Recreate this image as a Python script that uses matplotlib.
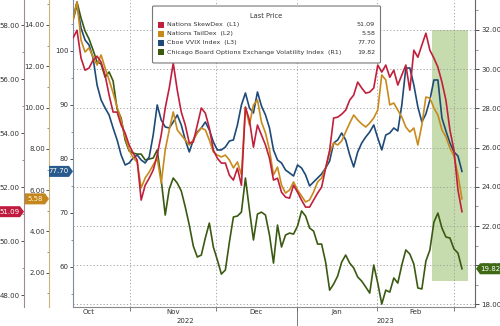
import numpy as np
import matplotlib
matplotlib.use("Agg")
import matplotlib.pyplot as plt
from matplotlib.patches import Polygon, Rectangle, FancyBboxPatch
from matplotlib.ticker import MultipleLocator, FormatStrFormatter

# daily closes, mid Oct 2022 -> early Mar 2023
vix = [32.61, 33.43, 32.61, 31.95, 31.54, 30.98, 30.37, 30.27, 29.60, 29.86,
       29.40, 27.97, 27.51, 26.39, 25.83, 25.72, 25.67, 25.67, 25.37, 25.42,
       25.47, 25.88, 24.35, 22.56, 23.89, 24.45, 24.19, 23.79, 22.97, 22.05,
       20.98, 20.42, 20.52, 21.39, 22.15, 20.93, 20.27, 19.55, 19.76, 21.18,
       22.46, 22.51, 22.71, 24.45, 22.82, 21.29, 22.61, 22.71, 22.56, 21.54,
       20.11, 22.05, 20.93, 21.54, 21.64, 21.59, 22.00, 22.77, 22.51, 21.90,
       21.74, 21.08, 21.08, 20.16, 18.73, 19.04, 19.45, 20.16, 20.52, 20.11,
       19.86, 19.40, 19.19, 18.89, 18.58, 20.01, 19.09, 18.02, 18.73, 18.63,
       19.35, 19.09, 20.01, 20.78, 20.57, 20.06, 18.84, 18.79, 20.21, 20.78,
       22.20, 22.66, 21.90, 21.44, 21.39, 20.83, 20.62, 19.82]

skewdex = [57.52, 57.81, 56.78, 56.33, 56.41, 56.70, 56.85, 56.63, 56.15, 55.41,
           54.78, 54.78, 54.30, 54.00, 53.56, 53.26, 53.00, 51.52, 52.07, 52.33,
           52.63, 53.19, 53.93, 54.93, 55.67, 56.59, 55.59, 54.78, 54.30, 53.63,
           53.67, 54.30, 54.93, 54.74, 54.19, 53.37, 53.07, 52.89, 52.89, 52.44,
           52.26, 52.70, 52.07, 54.96, 54.48, 53.48, 54.30, 53.93, 53.56, 53.07,
           52.26, 52.33, 51.81, 51.63, 51.59, 52.07, 51.81, 51.52, 51.26, 51.26,
           51.52, 51.78, 52.00, 52.70, 53.37, 54.56, 54.59, 54.70, 54.85, 55.22,
           55.41, 55.89, 55.67, 55.48, 55.52, 55.67, 56.52, 56.26, 56.52, 56.07,
           56.33, 55.78, 56.15, 56.52, 55.59, 57.07, 56.81, 57.26, 57.70, 57.07,
           56.78, 56.44, 55.89, 55.22, 54.11, 53.37, 51.89, 51.09]

taildex = [14.24, 15.11, 13.27, 12.69, 12.89, 12.45, 12.06, 12.55, 11.92, 11.34,
           10.71, 10.03, 9.40, 8.58, 7.95, 7.56, 7.37, 6.11, 6.59, 6.88,
           7.22, 7.56, 6.35, 7.95, 8.92, 9.79, 8.92, 8.67, 8.43, 8.19,
           8.43, 8.77, 9.01, 8.92, 8.43, 7.85, 7.70, 7.61, 7.70, 7.46,
           7.08, 7.37, 6.74, 10.03, 9.16, 10.13, 10.37, 9.30, 8.77, 7.95,
           6.74, 7.12, 6.25, 5.86, 6.01, 6.40, 6.01, 5.72, 5.43, 5.53,
           5.91, 6.40, 6.59, 7.08, 7.80, 8.29, 8.19, 8.38, 8.82, 9.25,
           9.64, 9.40, 9.21, 9.06, 9.25, 9.50, 9.88, 11.58, 11.34, 10.13,
           10.22, 9.88, 9.54, 9.06, 8.82, 9.01, 8.19, 9.16, 10.51, 10.46,
           9.98, 9.64, 8.92, 8.58, 8.04, 7.66, 6.74, 5.58]

vvix = [105.74, 108.52, 104.26, 102.04, 101.11, 98.70, 93.70, 90.93, 89.44, 88.15,
        85.74, 83.52, 80.74, 78.89, 79.26, 80.19, 80.74, 79.81, 79.26, 80.37,
        84.44, 90.00, 87.22, 85.93, 85.74, 86.85, 88.15, 86.30, 83.52, 81.30,
        83.52, 85.00, 85.74, 86.85, 85.37, 83.15, 81.67, 81.67, 82.22, 83.33,
        83.52, 86.30, 90.00, 92.22, 89.44, 88.52, 92.41, 89.81, 88.15, 85.74,
        81.67, 79.81, 79.26, 77.96, 77.41, 76.85, 78.89, 78.33, 77.04, 75.00,
        75.74, 76.48, 77.22, 78.33, 79.63, 82.96, 83.52, 84.81, 83.52, 80.74,
        78.52, 81.30, 82.96, 84.07, 85.00, 86.30, 83.89, 81.67, 84.44, 84.81,
        85.74, 85.19, 90.00, 96.85, 96.85, 93.70, 89.63, 86.85, 88.33, 90.93,
        94.63, 94.63, 87.59, 85.19, 82.96, 81.30, 80.56, 77.70]

months = ["Oct", "Nov", "Dec", "Jan", "Feb"]
month_pos = [4.0, 24.9, 45.6, 65.8, 85.5]          # label centres (trading-day index)
month_edges = [14.2, 35.7, 55.9, 75.8, 95.0]       # month boundaries
years = ["2022", "2023"]
year_pos = [27.9, 77.8]

names = ["Nations SkewDex  (L1)", "Nations TailDex  (L2)", "Cboe VVIX Index  (L3)",
         "Chicago Board Options Exchange Volatility Index  (R1)"]
last = ["51.09", "5.58", "77.70", "19.82"]

RED, ORANGE, BLUE, GREEN = "#c0203c", "#c98a1c", "#1f4a78", "#3a5a12"
TXT = "#333333"
FS = 5.0
LW = 1.2

W, H = 500, 326
fig = plt.figure(figsize=(W / 100, H / 100), dpi=100)
fig.patch.set_facecolor("white")


def P(x, y):
    # pixel (from top-left) -> figure fraction
    return x / W, 1 - y / H


x = np.arange(len(vix))

# base axes = VIX on the right, carries the grid
ax = fig.add_axes([73 / W, 1 - 307 / H, 402 / W, 307 / H])
axL3 = ax.twinx()
axL2 = ax.twinx()
axL1 = ax.twinx()

ax.set_xlim(0, 100.25)
ax.set_ylim(17.87, 33.53)
ax.add_patch(Rectangle((89.5, 19.2), 9.0, 12.8, facecolor="#c6dcae", lw=0, zorder=1))
ax.plot(x, vix, color=GREEN, lw=LW, zorder=3)
ax.yaxis.tick_right()
ax.yaxis.set_label_position("right")
ax.yaxis.set_major_locator(MultipleLocator(2))
ax.yaxis.set_minor_locator(MultipleLocator(1))
ax.yaxis.set_major_formatter(FormatStrFormatter("%.2f"))
ax.tick_params(axis="y", which="major", length=3, width=0.6, labelsize=FS, colors=TXT, pad=1.5)
ax.tick_params(axis="y", which="minor", length=2, width=0.5, colors="#666")
ax.spines["top"].set_visible(False)
ax.spines["left"].set_visible(False)
ax.spines["right"].set_color("#666")
ax.spines["bottom"].set_color("#888")
ax.set_xticks(month_edges)
ax.set_xticklabels([])
ax.set_xticks(month_pos, minor=True)
ax.set_xticklabels(months, minor=True)
ax.tick_params(axis="x", which="major", length=3, width=0.6, color="#666")
ax.tick_params(axis="x", which="minor", length=0, labelsize=FS, colors=TXT, pad=1.5)
ax.grid(axis="both", which="major", ls=(0, (1.5, 2.5)), color="#9a9a9a", lw=0.6)
ax.plot([month_edges[2]] * 2, [0, -0.062], color="#666", lw=0.6,
        transform=ax.get_xaxis_transform(), clip_on=False)
for yr, xp in zip(years, year_pos):
    ax.text(xp, -0.044, yr, transform=ax.get_xaxis_transform(), ha="center", va="center",
            fontsize=FS, color=TXT)

# three left-hand axes
specs = [
    (axL3, 0.0, (52.59, 109.44), 10, 5, "%d", "#7d8ca3", vvix, BLUE),
    (axL2, -24 / 402, (0.344, 15.21), 2, 1, "%.2f", "#c6b57c", taildex, ORANGE),
    (axL1, -49 / 402, (47.56, 58.93), 2, 1, "%.2f", "#9c8a94", skewdex, RED),
]
for a, pos, lim, maj, mnr, fmt, scol, data, lcol in specs:
    a.set_ylim(*lim)
    a.plot(x, data, color=lcol, lw=LW, zorder=3)
    a.yaxis.tick_left()
    a.yaxis.set_label_position("left")
    for s in ["top", "right", "bottom"]:
        a.spines[s].set_visible(False)
    a.spines["left"].set_visible(True)
    a.spines["left"].set_position(("axes", pos))
    a.spines["left"].set_color(scol)
    a.yaxis.set_major_locator(MultipleLocator(maj))
    a.yaxis.set_minor_locator(MultipleLocator(mnr))
    a.yaxis.set_major_formatter(FormatStrFormatter(fmt))
    a.tick_params(axis="y", which="major", length=2.2, width=0.6, labelsize=FS, colors=TXT, pad=0.8)
    a.tick_params(axis="y", which="minor", length=1.6, width=0.5, colors="#666")


def badge(axis, value, text, color, tip_px, width, side, tcolor="white"):
    yd = axis.transData.transform((0, value))[1]
    yp = H - yd
    h = 5.5
    if side == "right":      # pointing right, tip at tip_px
        x0 = tip_px - width
        pts = [(x0, yp - h), (tip_px - 4, yp - h), (tip_px, yp), (tip_px - 4, yp + h), (x0, yp + h)]
        xc = x0 + (width - 4) / 2
    else:                    # pointing left
        x1 = tip_px + width
        pts = [(x1, yp - h), (tip_px + 4, yp - h), (tip_px, yp), (tip_px + 4, yp + h), (x1, yp + h)]
        xc = tip_px + 4 + (width - 4) / 2
    fig.add_artist(Polygon([P(*p) for p in pts], closed=True, facecolor=color,
                           edgecolor="none", transform=fig.transFigure, zorder=5))
    fig.text(*P(xc, yp), text, ha="center", va="center", fontsize=FS, color=tcolor, zorder=6)


badge(axL1, 51.09, "51.09", "#c01a3e", 24, 24, "right")
badge(axL2, 5.58, "5.58", "#c4861e", 49, 24, "right", tcolor="#fff6c8")
badge(axL3, 77.70, "77.70", "#285a8c", 73, 24, "right")
badge(ax, 19.82, "19.82", "#3f6a14", 476, 24, "left")

# legend box
x0, y0 = P(154, 62)
x1, y1 = P(379, 7)
fig.add_artist(FancyBboxPatch((x0, y0), x1 - x0, y1 - y0, boxstyle="round,pad=0.003",
                              facecolor="white", edgecolor="#777", lw=0.8,
                              transform=fig.transFigure, zorder=7))
fig.text(*P(266, 16), "Last Price", ha="center", va="center", fontsize=4.8, color=TXT, zorder=8)
for i, (nm, val, col) in enumerate(zip(names, last, [RED, ORANGE, BLUE, GREEN])):
    yrow = 24.5 + 9.2 * i
    sx, sy = P(158, yrow + 3)
    fig.add_artist(Rectangle((sx, sy), 6 / W, 6 / H, facecolor=col, edgecolor="none",
                             transform=fig.transFigure, zorder=8))
    fig.text(*P(167, yrow), nm, ha="left", va="center", fontsize=4.6, color=TXT, zorder=8)
    fig.text(*P(375, yrow), val, ha="right", va="center", fontsize=4.6, color=TXT, zorder=8)

fig.savefig("out.png", dpi=100, facecolor="white")
